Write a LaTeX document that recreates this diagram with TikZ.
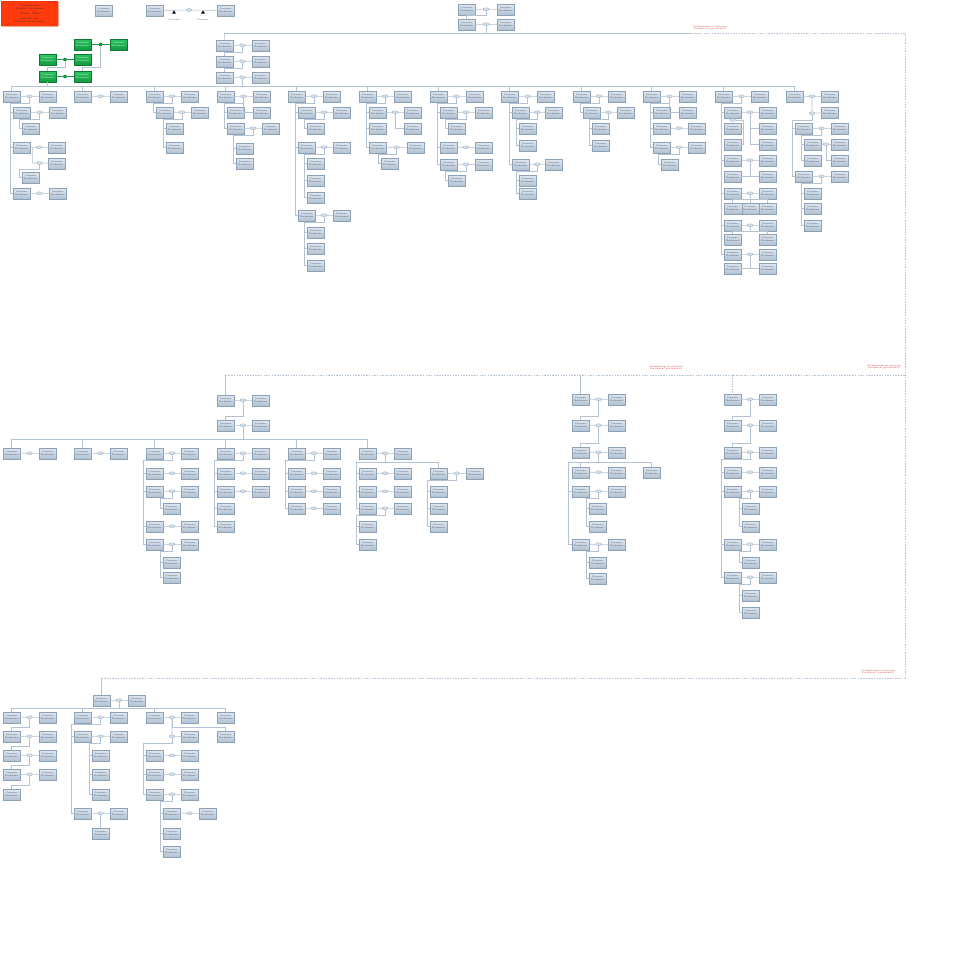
\documentclass[tikz,border=0pt]{standalone}
\usetikzlibrary{shadows,calc,shapes.geometric}
\definecolor{bxtop}{HTML}{DEE6EF}
\definecolor{bxbot}{HTML}{B2C3D4}
\definecolor{bxdraw}{HTML}{8CA1B6}
\definecolor{lnc}{HTML}{B3C3D3}
\definecolor{ringf}{HTML}{D3DEE8}
\definecolor{ringd}{HTML}{9DB1C5}
\definecolor{gtop}{HTML}{2DC461}
\definecolor{gbot}{HTML}{129A42}
\definecolor{gdraw}{HTML}{0C7A33}
\definecolor{redf}{HTML}{FF3A0C}
\definecolor{redd}{HTML}{D42A00}
\definecolor{txtc}{HTML}{3A4A5A}
\definecolor{redtxt}{HTML}{D0302A}
\tikzset{
 pb/.style={draw=bxdraw, line width=0.4pt, top color=bxtop, bottom color=bxbot, minimum width=17pt, minimum height=10.5pt, inner sep=0pt, anchor=north west, align=center, font=\fontsize{2.2}{2.6}\selectfont, text=txtc, drop shadow={shadow xshift=0.7pt, shadow yshift=-0.7pt, fill=black!55, opacity=0.6}},
 gb/.style={pb, draw=gdraw, top color=gtop, bottom color=gbot, text=white},
 ring/.style={ellipse, draw=ringd, fill=ringf, line width=0.3pt, minimum width=6pt, minimum height=3pt, inner sep=0pt},
 gring/.style={diamond, fill=gbot, draw=gdraw, line width=0.3pt, minimum width=5pt, minimum height=3.5pt, inner sep=0pt},
 ln/.style={draw=lnc, line width=0.6pt},
 dl/.style={draw=lnc, line width=0.6pt, dash pattern=on 1.5pt off 1.2pt},
 lab/.style={font=\fontsize{2.4}{2.8}\selectfont, text=redtxt, align=center, inner sep=0pt},
 smalltxt/.style={font=\fontsize{2.2}{2.6}\selectfont, text=txtc, inner sep=0pt},
}
\newcommand\nm{Vorname\\Nachname}
\newcommand\pp[3]{\node[pb] (#1) at (#2,#3) {\nm};}
\newcommand\cp[4]{\pp{#1}{#2}{#3}\pp{#1-s}{#4}{#3}\node[ring] (#1-e) at ({(#2+17+#4)/2},{#3+5.25}) {};\draw[ln] (#1) -- (#1-e) -- (#1-s);}
\newcommand\gcp[4]{\node[gb] (#1) at (#2,#3) {\nm};\node[gb] (#1-s) at (#4,#3) {\nm};\node[gring] (#1-e) at ({(#2+17+#4)/2},{#3+5.5}) {};\draw[ln,draw=gbot] (#1) -- (#1-e) -- (#1-s);}
\newcommand\kids[3]{\draw[ln] (#1.south) -- ++(0,5) -| ([xshift=-3pt]#2.west) -- (#2.west);\foreach \c in {#3}{\draw[ln] ([xshift=-3pt]\c.west) -- (\c.west);}}
\newcommand\rkid[2]{\draw[ln] (#1.south) |- (#2.west);}
\newcommand\chain[2]{\draw[ln] (#1.south) |- ($(#2.north)+(0,-4)$) -- (#2.north);}
\begin{document}
\begin{tikzpicture}[x=1pt,y=-1pt]
\fill[white] (0,0) rectangle (970,970);
\useasboundingbox (0,0) rectangle (970,970);
% ---------- header ----------
\node[draw=redd, fill=redf, minimum width=57pt, minimum height=25pt, anchor=north west, rounded corners=0.8pt, align=center, font=\fontsize{2.6}{3.1}\selectfont, text=black!80] (title) at (1,1) {Stammbaum\\Familie Nachname\\[1.5pt] Stand: 2010\\[1.5pt] erstellt von\\Vorname Nachname};
\pp{h1}{95}{5}
\pp{h2}{146}{5}
\pp{h3}{217}{5}
\node[ring] (h2-e) at (189,10) {};
\draw[ln] (h2) -- (h2-e) -- (h3);
\node[regular polygon, regular polygon sides=3, fill=black, minimum size=4.5pt, inner sep=0pt] (tri1) at (174,12.5) {};
\node[regular polygon, regular polygon sides=3, fill=black, minimum size=4.5pt, inner sep=0pt] (tri2) at (203,12.5) {};
\node[smalltxt] (tl1) at (174,19.5) {Vorname};
\node[smalltxt] (tl2) at (203,19.5) {Vorname};
% top right couples
\cp{r1}{458}{4}{497}
\cp{r2}{458}{19}{497}
\chain{r1-e}{r2}
\coordinate (L1a) at (224.5,33);
\coordinate (L1b) at (690,33);
\coordinate (L1c) at (905,33);
\coordinate (L3r) at (905,678);
\coordinate (L2r) at (905,375);
\draw[ln] (r2-e.south) -- (r2-e.south |- L1a);
% gray chain
\cp{g1}{216}{40}{252}
\cp{g2}{216}{56}{252}
\cp{g3}{216}{72}{252}
\draw[ln] (L1a) -- (L1b);
\draw[ln] (L1a) -- (g1.north);
\chain{g1-e}{g2}
\chain{g2-e}{g3}
% green
\gcp{gr1}{74}{39}{110}
\gcp{gr2}{39}{54}{74}
\gcp{gr3}{39}{71}{74}
\draw[ln] (gr1-e.south) |- ($(gr3-s.north)+(0,-4)$) -- (gr3-s.north);
\chain{gr2-e}{gr3}
% main bus
\coordinate (B1l) at (11.5,86);
\coordinate (B1r) at (794.5,86);
\draw[ln] (B1l) -- (B1r);
\draw[ln] (g3-e.south) -- (g3-e.south |- B1l);
\draw[ln] (gr3.south) -- (gr3.south |- B1l);
% ---------- family 0 ----------
\cp{a0}{3}{91}{39}
\cp{a0c1}{13}{107}{49}
\pp{a0c1k1}{22}{123}
\cp{a0c2}{13}{142}{48}
\node[ring] (a0c2-e2) at (39.5,163) {};
\pp{a0c2-s2}{48}{158}
\draw[ln] ([xshift=2pt]a0c2.east) |- (a0c2-e2) -- (a0c2-s2);
\pp{a0c2k1}{22}{172}
\cp{a0c3}{13}{188}{49}
\kids{a0-e}{a0c3}{a0c1,a0c2,a0c3}
\kids{a0c1-e}{a0c1k1}{a0c1k1}
\kids{a0c2-e2}{a0c2k1}{a0c2k1}
% family 1
\cp{a1}{74}{91}{110}
% family 2
\cp{a2}{146}{91}{181}
\cp{a2c1}{156}{107}{191}
\pp{a2c1k1}{166}{123}
\pp{a2c1k2}{166}{142}
\kids{a2-e}{a2c1}{a2c1}
\kids{a2c1-e}{a2c1k2}{a2c1k1,a2c1k2}
% family 3
\cp{a3}{217}{91}{253}
\pp{a3c1}{227}{107}
\pp{a3r}{253}{107}
\cp{a3c2}{227}{123}{262}
\pp{a3c2k1}{236}{143}
\pp{a3c2k2}{236}{158}
\kids{a3-e}{a3c2}{a3c1,a3c2}
\rkid{a3-e}{a3r}
\kids{a3c2-e}{a3c2k2}{a3c2k1,a3c2k2}
% family 4
\cp{a4}{288}{91}{323}
\cp{a4c1}{298}{107}{333}
\pp{a4c1k1}{307}{123}
\cp{a4c2}{298}{142}{333}
\pp{a4c2k1}{307}{158}
\pp{a4c2k2}{307}{175}
\pp{a4c2k3}{307}{192}
\cp{a4c3}{298}{210}{333}
\pp{a4c3k1}{307}{227}
\pp{a4c3k2}{307}{243}
\pp{a4c3k3}{307}{260}
\kids{a4-e}{a4c3}{a4c1,a4c2,a4c3}
\kids{a4c1-e}{a4c1k1}{a4c1k1}
\kids{a4c2-e}{a4c2k3}{a4c2k1,a4c2k2,a4c2k3}
\kids{a4c3-e}{a4c3k3}{a4c3k1,a4c3k2,a4c3k3}
% family 5
\cp{a5}{359}{91}{394}
\cp{a5c1}{369}{107}{404}
\pp{a5c1r}{404}{123}
\rkid{a5c1-e}{a5c1r}
\pp{a5c2}{369}{123}
\cp{a5c3}{369}{142}{407}
\pp{a5c3k1}{381}{158}
\kids{a5-e}{a5c3}{a5c1,a5c2,a5c3}
\kids{a5c3-e}{a5c3k1}{a5c3k1}
% family 6
\cp{a6}{430}{91}{466}
\cp{a6c1}{440}{107}{475}
\pp{a6c1k1}{448}{123}
\cp{a6c2}{440}{142}{475}
\cp{a6c3}{440}{159}{475}
\pp{a6c3k1}{448}{175}
\kids{a6-e}{a6c3}{a6c1,a6c2,a6c3}
\kids{a6c1-e}{a6c1k1}{a6c1k1}
\kids{a6c3-e}{a6c3k1}{a6c3k1}
% family 7
\cp{a7}{501}{91}{537}
\cp{a7c1}{512}{107}{545}
\pp{a7c1k1}{519}{123}
\pp{a7c1k2}{519}{140}
\cp{a7c2}{512}{159}{545}
\pp{a7c2k1}{519}{175}
\pp{a7c2k2}{519}{188}
\kids{a7-e}{a7c2}{a7c1,a7c2}
\kids{a7c1-e}{a7c1k2}{a7c1k1,a7c1k2}
\kids{a7c2-e}{a7c2k2}{a7c2k1,a7c2k2}
% family 8
\cp{a8}{573}{91}{608}
\cp{a8c1}{583}{107}{617}
\pp{a8c1k1}{592}{123}
\pp{a8c1k2}{592}{140}
\kids{a8-e}{a8c1}{a8c1}
\kids{a8c1-e}{a8c1k2}{a8c1k1,a8c1k2}
% family 9
\cp{a9}{643}{91}{679}
\pp{a9r}{679}{107}
\pp{a9c1}{653}{107}
\cp{a9c2}{653}{123}{688}
\cp{a9c3}{653}{142}{688}
\pp{a9c3k1}{661}{159}
\kids{a9-e}{a9c3}{a9c1,a9c2,a9c3}
\rkid{a9-e}{a9r}
\kids{a9c3-e}{a9c3k1}{a9c3k1}
% family 10
\cp{a10}{715}{91}{751}
\cp{b1}{724}{107}{759}
\pp{b1k1}{759}{123}
\pp{b1k2}{759}{139}
\draw[ln] (b1-e.south) |- (b1k2.west);
\draw[ln] (b1-e.south |- b1k1.west) -- (b1k1.west);
\node[ring] (b1-e2) at (732.5,120) {};
\pp{b2}{724}{123}
\pp{b3}{724}{139}
\draw[ln] (b1.south) -- (b1-e2);
\draw[ln] (b1-e2) -| ($(b3.east)+(1.5,0)$) -- (b3.east);
\draw[ln] ($(b2.east)+(1.5,0)$) -- (b2.east);
\cp{b4}{724}{155}{759}
\pp{b5}{724}{171}
\pp{b5r}{759}{171}
\draw[ln] (b4-e.south) -- (b4-e.south |- b5.east);
\draw[ln] (b5.east) -- (b5r.west);
\cp{b6}{724}{188}{759}
\pp{b7}{724}{203}
\pp{b7m}{741.5}{203}
\pp{b7r}{759}{203}
\draw[ln] (b6-e.south) -- ++(0,4.2) coordinate (b6h);
\draw[ln] (b7.north |- b6h) -- (b7r.north |- b6h);
\foreach \n in {b7,b7m,b7r}{\draw[ln] (\n.north |- b6h) -- (\n.north);}
\cp{b8}{724}{220}{759}
\pp{b9}{724}{234}
\pp{b9r}{759}{234}
\draw[ln] (b8-e.south) -- ++(0,4) coordinate (b8h);
\draw[ln] (b9.north |- b8h) -- (b9r.north |- b8h);
\foreach \n in {b9,b9r}{\draw[ln] (\n.north |- b8h) -- (\n.north);}
\cp{b10}{724}{249}{759}
\pp{b11}{724}{263}
\pp{b11r}{759}{263}
\draw[ln] (b10-e.south) -- (b10-e.south |- b11.east);
\draw[ln] (b11.east) -- (b11r.west);
\kids{a10-e}{b10}{b1,b4,b6,b8,b10}
% family 11
\cp{a11}{786}{91}{821}
\path (a11-e) ++(0,17) node[ring] (a11-e2) {};
\pp{a11-s2}{821}{107}
\draw[ln] (a11-e) -- (a11-e2) -- (a11-s2);
\cp{a11c1}{795}{123}{831}
\cp{a11c1k1}{804}{139}{831}
\pp{a11c1k2}{804}{155}
\pp{a11c1k1r}{831}{155}
\rkid{a11c1k1-e}{a11c1k1r}
\cp{a11c2}{795}{171}{831}
\pp{a11c2k1}{804}{188}
\pp{a11c2k2}{804}{203}
\pp{a11c2k3}{804}{220}
\kids{a11-e2}{a11c2}{a11c1,a11c2}
\kids{a11c1-e}{a11c1k2}{a11c1k1,a11c1k2}
\kids{a11c2-e}{a11c2k3}{a11c2k1,a11c2k2,a11c2k3}
\foreach \n in {a0,a1,a2,a3,a4,a5,a6,a7,a8,a9,a10,a11}{\draw[ln] (\n.north |- B1l) -- (\n.north);}
% ---------- dashed frame ----------
\draw[dl] (L1b) -- (L1c) -- (L3r);
\node[lab] (n1) at (710,28) {Verbindung zu weiteren\\Vorfahren (gestrichelt)};
\node[lab] (n2) at (666,368) {Verbindung zu weiteren\\Vorfahren (gestrichelt)};
\node[lab] (n3) at (884,367) {Verbindung zu weiteren\\Vorfahren (gestrichelt)};
\node[lab] (n4) at (878,672) {Verbindung zu weiteren\\Vorfahren (gestrichelt)};
% ---------- section 2 ----------
\cp{s1}{217}{395}{252}
\cp{s2}{217}{420}{252}
\chain{s1-e}{s2}
\coordinate (L2l) at (s1.north |- L2r);
\draw[dl] (L2l) -- (L2r);
\draw[ln] (L2l) -- (s1.north);
\coordinate (B2l) at (11.5,439);
\coordinate (B2r) at (367.5,439);
\draw[ln] (B2l) -- (B2r);
\draw[ln] (s2-e.south) -- (s2-e.south |- B2l);
\cp{t0}{3}{448}{39}
\cp{t1}{74}{448}{110}
\cp{t2}{146}{448}{181}
\cp{t3}{217}{448}{252}
\cp{t4}{288}{448}{323}
\cp{t5}{359}{448}{394}
\foreach \n in {t0,t1,t2,t3,t4,t5}{\draw[ln] (\n.north |- B2l) -- (\n.north);}
\cp{t2c1}{146}{468}{181}
\cp{t2c2}{146}{486}{181}
\pp{t2c2k1}{163}{503}
\cp{t2c3}{146}{521}{181}
\cp{t2c4}{146}{539}{181}
\pp{t2c4k1}{163}{557}
\pp{t2c4k2}{163}{572}
\kids{t2-e}{t2c4}{t2c1,t2c2,t2c3,t2c4}
\kids{t2c2-e}{t2c2k1}{t2c2k1}
\kids{t2c4-e}{t2c4k2}{t2c4k1,t2c4k2}
\cp{t3c1}{217}{468}{252}
\cp{t3c2}{217}{486}{252}
\pp{t3c3}{217}{503}
\pp{t3c4}{217}{521}
\kids{t3-e}{t3c4}{t3c1,t3c2,t3c3,t3c4}
\cp{t4c1}{288}{468}{323}
\cp{t4c2}{288}{486}{323}
\cp{t4c3}{288}{503}{323}
\kids{t4-e}{t4c3}{t4c1,t4c2,t4c3}
\cp{t5c1}{359}{468}{394}
\cp{t5c2}{430}{468}{466}
\cp{t5c3}{359}{486}{394}
\cp{t5c4}{359}{503}{394}
\coordinate (t5h) at ($(t5-e)+(0,9)$);
\draw[ln] (t5-e.south) -- (t5h);
\draw[ln] (t5h) -| (t5c2.north);
\draw[ln] (t5h) -| ([xshift=-3pt]t5c4.west) -- (t5c4.west);
\foreach \n in {t5c1,t5c3}{\draw[ln] ([xshift=-3pt]\n.west) -- (\n.west);}
\pp{t5c4k1}{359}{521}
\pp{t5c4k2}{359}{539}
\kids{t5c4-e}{t5c4k2}{t5c4k1,t5c4k2}
\pp{t5c2k1}{430}{486}
\pp{t5c2k2}{430}{503}
\pp{t5c2k3}{430}{521}
\kids{t5c2-e}{t5c2k3}{t5c2k1,t5c2k2,t5c2k3}
% section 2 right A
\cp{u1}{572}{394}{608}
\cp{u2}{572}{420}{608}
\cp{u3}{572}{447}{608}
\draw[ln] (u1.north |- L2r) -- (u1.north);
\chain{u1-e}{u2}
\chain{u2-e}{u3}
\cp{u4}{572}{467}{608}
\pp{u4b}{643}{467}
\coordinate (u3h) at ($(u3-e)+(0,10)$);
\draw[ln] (u3-e.south) -- (u3h);
\draw[ln] ([xshift=-4pt]u4.west |- u3h) -- (u4b.north |- u3h) -- (u4b.north);
\draw[ln] (u4.north |- u3h) -- (u4.north);
\cp{u5}{572}{486}{608}
\pp{u5k1}{589}{503}
\pp{u5k2}{589}{521}
\cp{u6}{572}{539}{608}
\pp{u6k1}{589}{557}
\pp{u6k2}{589}{573}
\draw[ln] ([xshift=-4pt]u4.west |- u3h) |- (u6.west);
\draw[ln] ([xshift=-4pt]u5.west) -- (u5.west);
\kids{u5-e}{u5k2}{u5k1,u5k2}
\kids{u6-e}{u6k2}{u6k1,u6k2}
% section 2 right B
\cp{v1}{724}{394}{759}
\cp{v2}{724}{420}{759}
\cp{v3}{724}{447}{759}
\draw[dl] (v1.north |- L2r) -- (v1.north);
\chain{v1-e}{v2}
\chain{v2-e}{v3}
\cp{v4}{724}{467}{759}
\cp{v5}{724}{486}{759}
\pp{v5k1}{742}{503}
\pp{v5k2}{742}{521}
\cp{v6}{724}{539}{759}
\pp{v6k1}{742}{557}
\cp{v7}{724}{572}{759}
\pp{v7k1}{742}{590}
\pp{v7k2}{742}{607}
\kids{v3-e}{v7}{v4,v5,v6,v7}
\kids{v5-e}{v5k2}{v5k1,v5k2}
\kids{v6-e}{v6k1}{v6k1}
\kids{v7-e}{v7k2}{v7k1,v7k2}
% ---------- section 3 ----------
\cp{w0}{93}{695}{128}
\draw[dl] (L3r) -- (w0.north |- L3r);
\draw[ln] (w0.north |- L3r) -- (w0.north);
\coordinate (B3l) at (11.5,708);
\coordinate (B3r) at (225.5,708);
\draw[ln] (B3l) -- (B3r);
\draw[ln] (w0-e.south) -- (w0-e.south |- B3l);
\cp{x0}{3}{712}{39}
\cp{x0a}{3}{731}{39}
\cp{x0b}{3}{750}{39}
\cp{x0c}{3}{769}{39}
\pp{x0d}{3}{789}
\chain{x0-e}{x0a}
\chain{x0a-e}{x0b}
\chain{x0b-e}{x0c}
\chain{x0c-e}{x0d}
\cp{x1}{74}{712}{110}
\cp{x1a}{74}{731}{110}
\pp{x1ak1}{92}{750}
\pp{x1ak2}{92}{769}
\pp{x1ak3}{92}{789}
\cp{x1b}{74}{808}{110}
\pp{x1bk1}{92}{828}
\kids{x1-e}{x1b}{x1a,x1b}
\kids{x1a-e}{x1ak3}{x1ak1,x1ak2,x1ak3}
\draw[ln] (x1b-e.south) -- (x1b-e.south |- x1bk1.north);
\cp{x2}{146}{712}{181}
\path (x2-e) ++(0,19) node[ring] (x2-e2) {};
\pp{x2-s2}{181}{731}
\draw[ln] (x2-e) -- (x2-e2) -- (x2-s2);
\pp{x2r}{217}{731}
\draw[ln] (x2-e.south) -- ++(0,8) -| (x2r.north);
\cp{x2c1}{146}{750}{181}
\cp{x2c2}{146}{769}{181}
\cp{x2c3}{146}{789}{181}
\kids{x2-e2}{x2c3}{x2c1,x2c2,x2c3}
\cp{x2c3k1}{163}{808}{199}
\pp{x2c3k2}{163}{828}
\pp{x2c3k3}{163}{846}
\kids{x2c3-e}{x2c3k3}{x2c3k1,x2c3k2,x2c3k3}
\pp{x3}{217}{712}
\foreach \n in {x0,x1,x2,x3}{\draw[ln] (\n.north |- B3l) -- (\n.north);}
\end{tikzpicture}
\end{document}
